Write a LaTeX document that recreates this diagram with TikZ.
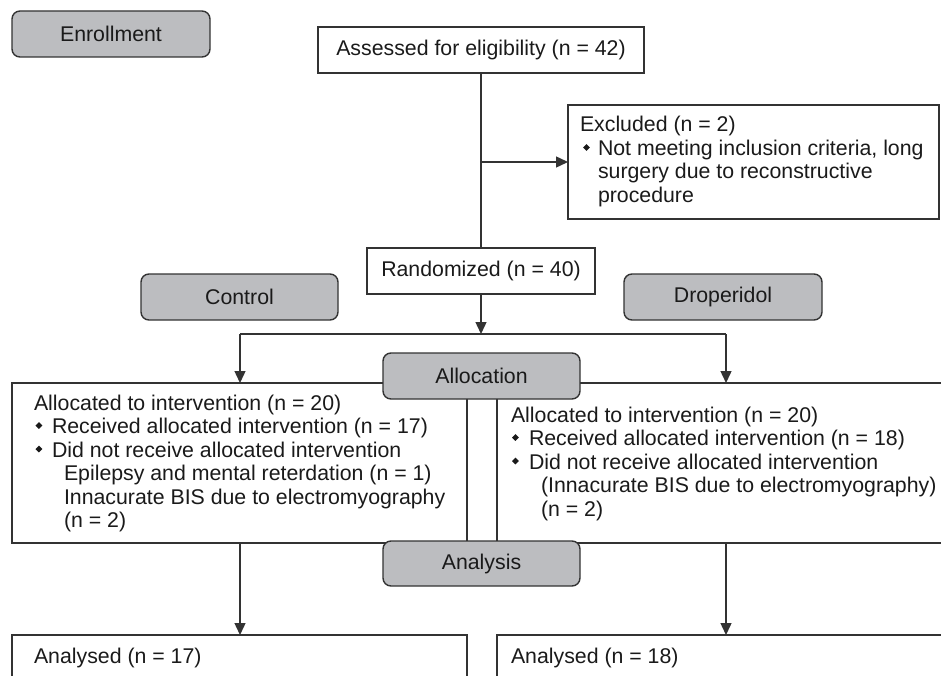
\documentclass[tikz,border=0pt]{standalone}
\usepackage{fontspec}
\usepackage{graphicx}
\setmainfont{Liberation Sans}
\usetikzlibrary{arrows.meta}
\definecolor{lc}{HTML}{333333}
\definecolor{gfill}{HTML}{BCBDC0}
\definecolor{tc}{HTML}{1A1A1A}
\newcommand\bul{\raisebox{4.6pt}{\rotatebox{45}{\rule{4.8pt}{4.8pt}}}}
\newcommand\bodyfont{\fontsize{21.3}{23.5}\selectfont}
\newcommand\fl{\rule{0pt}{16pt}}
\tikzset{
  line/.style={draw=lc, line width=1.4pt},
  arr/.style={line, -{Triangle[length=12pt,width=11pt]}},
  wbox/.style={draw=lc, line width=1.4pt, fill=white, inner sep=0pt, outer sep=0pt, anchor=north west, font=\bodyfont, text=tc},
  gbox/.style={draw=lc, line width=1.4pt, fill=gfill, rounded corners=8pt, inner sep=0pt, outer sep=0pt, anchor=north west, font=\bodyfont, text=tc},
  txt/.style={anchor=north west, inner sep=0pt, outer sep=0pt, align=left, font=\bodyfont, text=tc}
}
\begin{document}
\begin{tikzpicture}[x=1pt,y=-1pt]
\useasboundingbox (0,0) rectangle (941,676);
\fill[white] (0,0) rectangle (941,676);
\clip (0,0) rectangle (941,676);

% white boxes
\node[wbox, minimum width=326pt, minimum height=46pt] (assess) at (318,27) {Assessed for eligibility (n = 42)};
\node[wbox, minimum width=371pt, minimum height=114pt] (excl) at (568,105) {};
\node[wbox, minimum width=228pt, minimum height=46pt] (rand) at (367,248) {Randomized (n = 40)};
\node[wbox, minimum width=455pt, minimum height=160pt] (lbox) at (12,383) {};
\node[wbox, minimum width=460pt, minimum height=160pt] (rbox) at (497,383) {};
\node[wbox, minimum width=455pt, minimum height=80pt] (lana) at (12,635) {};
\node[wbox, minimum width=460pt, minimum height=80pt] (rana) at (497,635) {};

% texts
\node[txt] (extxt) at (580,116) {\fl Excluded (n = 2)\\
\hspace*{3pt}\makebox[15pt][l]{\bul}Not meeting inclusion criteria, long\\
\hspace*{18pt}surgery due to reconstructive\\
\hspace*{18pt}procedure};
\node[txt] (ltxt) at (34,394) {\fl Allocated to intervention (n = 20)\\
\hspace*{1.5pt}\makebox[16.5pt][l]{\bul}Received allocated intervention (n = 17)\\
\hspace*{1.5pt}\makebox[16.5pt][l]{\bul}Did not receive allocated intervention\\
\hspace*{30pt}Epilepsy and mental reterdation (n = 1)\\
\hspace*{30pt}Innacurate BIS due to electromyography\\
\hspace*{30pt}(n = 2)};
\node[txt] (rtxt) at (511,406) {\fl Allocated to intervention (n = 20)\\
\hspace*{1pt}\makebox[17pt][l]{\bul}Received allocated intervention (n = 18)\\
\hspace*{1pt}\makebox[17pt][l]{\bul}Did not receive allocated intervention\\
\hspace*{30pt}(Innacurate BIS due to electromyography)\\
\hspace*{30pt}(n = 2)};
\node[txt] (lanat) at (34,647) {\fl Analysed (n = 17)};
\node[txt] (ranat) at (511,647) {\fl Analysed (n = 18)};

% connectors
\draw[line] (assess.south) -- (rand.north);
\coordinate (j1) at (assess.south |- excl.west);
\draw[arr] (j1) -- (excl.west);
\coordinate (split) at (481,334);
\draw[arr] (rand.south) -- (split);
\coordinate (sl) at (240,334);
\coordinate (sr) at (726,334);
\draw[line] (sl) -- (sr);
\draw[arr] (sl) -- (sl |- lbox.north);
\draw[arr] (sr) -- (sr |- rbox.north);
\draw[arr] (sl |- lbox.south) -- (sl |- lana.north);
\draw[arr] (sr |- rbox.south) -- (sr |- rana.north);

% gray label boxes
\node[gbox, minimum width=198pt, minimum height=46pt] (enroll) at (12,11) {Enrollment};
\node[gbox, minimum width=197pt, minimum height=46pt] (control) at (141,274) {Control};
\node[gbox, minimum width=198pt, minimum height=46pt] (drop) at (624,274) {Droperidol};
\node[gbox, minimum width=197pt, minimum height=46pt] (alloc) at (383,353) {Allocation};
\node[gbox, minimum width=197pt, minimum height=45pt] (analysis) at (383,541) {Analysis};
\end{tikzpicture}
\end{document}
